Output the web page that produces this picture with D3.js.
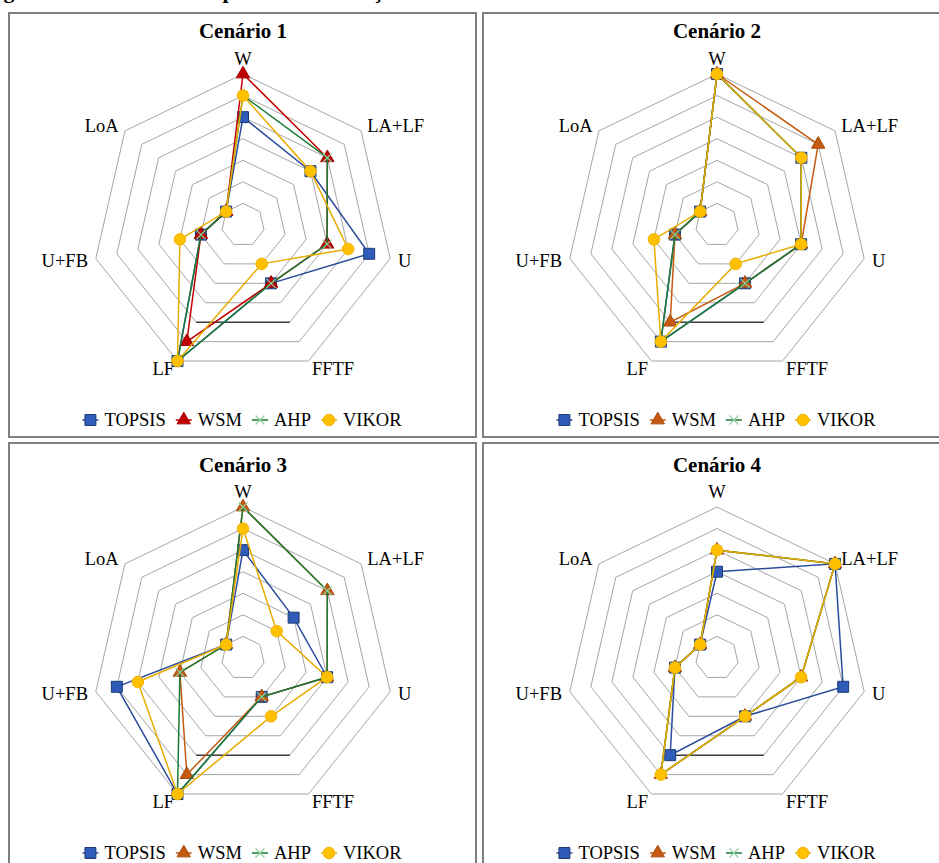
<!DOCTYPE html>
<html>
<head>
<meta charset="utf-8">
<script src="https://cdn.jsdelivr.net/npm/d3@7"></script>
<style>
  body { margin: 0; background: #fff; }
  svg { display: block; }
</style>
</head>
<body>
<svg id="chart" width="939" height="863" font-family="'Liberation Serif', 'Times New Roman', 'DejaVu Serif', serif"></svg>
<script>
// Criteria (radar axes, clockwise from the top) and ranking methods
const criteria = ["W", "LA+LF", "U", "FFTF", "LF", "U+FB", "LoA"];
const methods = ["TOPSIS", "WSM", "AHP", "VIKOR"];
const scenarioTitles = ["Cenário 1", "Cenário 2", "Cenário 3", "Cenário 4"];
const scaleTicks = [1, 2, 3, 4, 5, 6, 7];

// Rank given to each criterion by each method, one row per scenario
const topsis = [[5, 4, 6, 3, 7, 2, 1], [7, 5, 4, 3, 6, 2, 1], [5, 3, 4, 2, 7, 6, 1], [4, 7, 6, 3, 5, 2, 1]];
const wsm    = [[7, 5, 4, 3, 6, 2, 1], [7, 6, 4, 3, 5, 2, 1], [7, 5, 4, 2, 6, 3, 1], [5, 7, 4, 3, 6, 2, 1]];
const ahp    = [[6, 5, 4, 3, 7, 2, 1], [7, 5, 4, 3, 6, 2, 1], [7, 5, 4, 2, 7, 3, 1], [5, 7, 4, 3, 6, 2, 1]];
const vikor  = [[6, 4, 5, 2, 7, 3, 1], [7, 5, 4, 2, 6, 3, 1], [6, 2, 4, 3, 7, 5, 1], [5, 7, 4, 3, 6, 2, 1]];

const seriesValues = { TOPSIS: topsis, WSM: wsm, AHP: ahp, VIKOR: vikor };

const FONT = "'Liberation Serif', 'Times New Roman', 'DejaVu Serif', serif";
const svg = d3.select("#chart");

function addText(parent) {
  return parent.append("text").attr("font-family", FONT).attr("fill", "#000");
}

// Caption line above the panels (cut by the page edge)
addText(svg)
  .attr("x", -16).attr("y", -2)
  .attr("font-size", 22).attr("font-weight", "bold")
  .text("Figura 4 – Gráfico radar para a classificação dos critérios nos diferentes métodos e cenários");

const panelW = 467, panelH = 424;
const panels = [
  { x: 9,   y: 13,  shift: 0 },
  { x: 483, y: 13,  shift: 0 },
  { x: 9,   y: 443, shift: 3 },
  { x: 483, y: 443, shift: 3 }
];

const R = 151;
const rScale = d3.scaleLinear().domain([0, 7]).range([0, R]);
const angle = d3.scaleLinear().domain([0, criteria.length]).range([0, 2 * Math.PI]);

const radialLine = d3.lineRadial()
  .angle((d, i) => angle(i))
  .radius(d => rScale(d))
  .curve(d3.curveLinearClosed);

function styleFor(method, scen) {
  switch (method) {
    case "TOPSIS": return { line: "#2B4C9B", fill: "#2F5CB8", stroke: "#1C3A73" };
    case "WSM": return scen === 0
      ? { line: "#C00000", fill: "#C00000", stroke: "#A00000" }
      : { line: "#C55A11", fill: "#C55A11", stroke: "#A84A0C" };
    case "AHP": return { line: "#1A7A36", fill: "none", stroke: "#8FD19E" };
    default: return { line: "#E8AC00", fill: "#FFC000", stroke: "#F2B400" };
  }
}

function drawMarker(g, method, st, x, y) {
  if (method === "AHP") {
    const s = 4.5;
    g.append("path")
      .attr("d", `M${x - s},${y - s}L${x + s},${y + s}M${x - s},${y + s}L${x + s},${y - s}`)
      .attr("stroke", st.stroke).attr("stroke-width", 1.2).attr("fill", "none");
    return;
  }
  const type = method === "TOPSIS" ? d3.symbolSquare
    : method === "WSM" ? d3.symbolTriangle : d3.symbolCircle;
  const size = method === "TOPSIS" ? 120 : method === "WSM" ? 78 : 105;
  g.append("path")
    .attr("d", d3.symbol().type(type).size(size)())
    .attr("transform", `translate(${x},${y})`)
    .attr("fill", st.fill).attr("stroke", st.stroke).attr("stroke-width", 1);
}

panels.forEach((p, s) => {
  const g = svg.append("g");
  const cx = p.x + 234, cy = p.y + 212 + p.shift;

  g.append("rect")
    .attr("x", p.x).attr("y", p.y).attr("width", panelW).attr("height", panelH)
    .attr("fill", "none").attr("stroke", "#7F7F7F").attr("stroke-width", 2);

  addText(g)
    .attr("x", cx).attr("y", p.y + 25 + p.shift + (s >= 2 ? 1 : 0))
    .attr("text-anchor", "middle")
    .attr("font-size", 21).attr("font-weight", "bold")
    .text(scenarioTitles[s]);

  const plot = g.append("g").attr("transform", `translate(${cx},${cy})`);

  // Grid rings
  scaleTicks.forEach(t => {
    plot.append("path")
      .attr("d", radialLine(criteria.map(() => t)))
      .attr("fill", "none").attr("stroke", "#A6A6A6").attr("stroke-width", 1);
  });
  // Dark edge of ring 5 between FFTF and LF
  const pt = (v, i) => [rScale(v) * Math.sin(angle(i)), -rScale(v) * Math.cos(angle(i))];
  const a = pt(5, 3), b = pt(5, 4);
  plot.append("line")
    .attr("x1", a[0]).attr("y1", a[1]).attr("x2", b[0]).attr("y2", b[1])
    .attr("stroke", "#000").attr("stroke-width", 1);

  // Axis labels
  criteria.forEach((c, i) => {
    const ang = angle(i);
    const sx = Math.sin(ang), cy0 = Math.cos(ang);
    const rr = R + 8;
    const x = rr * sx, y = -rr * cy0;
    const t = addText(plot)
      .attr("x", x).attr("font-size", 18.5)
      .attr("text-anchor", Math.abs(sx) < 0.1 ? "middle" : (sx > 0 ? "start" : "end"))
      .text(c);
    if (i === 0) t.attr("y", y - 1);
    else t.attr("y", y).attr("dy", "0.34em");
  });

  // Series: line then markers, drawn in method order
  methods.forEach(m => {
    const vals = seriesValues[m][s];
    const st = styleFor(m, s);
    plot.append("path")
      .attr("d", radialLine(vals))
      .attr("fill", "none").attr("stroke", st.line).attr("stroke-width", 1.5);
    vals.forEach((v, i) => {
      const q = pt(v, i);
      drawMarker(plot, m, st, q[0], q[1]);
    });
  });

  // Legend
  const lg = g.append("g");
  const ly = p.y + 408 + p.shift - 1;
  const gap = 10;
  let xPos = 0;
  methods.forEach(m => {
    const st = styleFor(m, s);
    lg.append("line")
      .attr("x1", xPos).attr("x2", xPos + 16).attr("y1", ly).attr("y2", ly)
      .attr("stroke", st.line).attr("stroke-width", 1.5);
    drawMarker(lg, m, st, xPos + 8, ly);
    const tx = addText(lg)
      .attr("x", xPos + 22).attr("y", ly).attr("dy", "0.34em")
      .attr("font-size", 18.5).text(m);
    xPos += 22 + tx.node().getComputedTextLength() + gap;
  });
  const total = xPos - gap;
  lg.attr("transform", `translate(${cx - 1 - total / 2},0)`);
});
</script>
</body>
</html>
